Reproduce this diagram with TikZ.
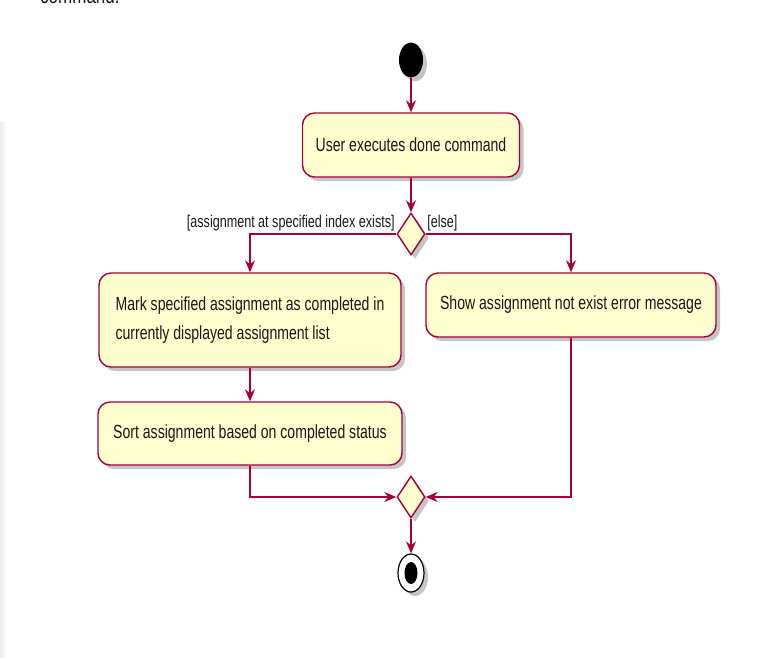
\documentclass[tikz,border=0pt]{standalone}
\usepackage{fontspec}
\setmainfont{Liberation Sans}[FakeStretch=0.74]
\usetikzlibrary{arrows.meta,shapes.geometric,shadows}

\definecolor{umlred}{HTML}{A80036}
\definecolor{umlfill}{HTML}{FEFECE}

\tikzset{
    umlshadow/.style={drop shadow={shadow xshift=4pt, shadow yshift=-4pt, fill=black!45, opacity=.5}},
    activity/.style={draw=umlred, fill=umlfill, line width=1.4pt, rounded corners=12pt,
        inner sep=0pt, text=black!90, font=\fontsize{19}{29}\selectfont, umlshadow},
    branch/.style={diamond, draw=umlred, fill=umlfill, line width=1.4pt, aspect=0.667,
        minimum width=28pt, minimum height=42pt, inner sep=0pt, umlshadow},
    guard/.style={font=\fontsize{17}{20}\selectfont, inner sep=1pt, text=black!90},
    flow/.style={draw=umlred, line width=1.4pt, -{Stealth[length=12pt, width=10pt, inset=4pt]}},
    link/.style={draw=umlred, line width=1.4pt}
}

\begin{document}
\begin{tikzpicture}[x=1pt, y=-1pt]
            \useasboundingbox (0,0) rectangle (784,657);
            \shade[left color=black!7, right color=white] (0,122) rectangle (7,657);
            \node[anchor=base west, font=\fontsize{23}{26}\selectfont, text=black!90, inner sep=0pt] (cmd) at (40,3) {command.};

            \node[ellipse, fill=black, minimum width=24pt, minimum height=35pt, inner sep=0pt, umlshadow] (S) at (411,60) {};

            \node[activity, minimum width=217pt, minimum height=64pt] (A1) at (411,145) {User executes done command};
            \node[branch] (D1) at (411,234) {};

            \node[activity, minimum width=302pt, minimum height=94pt, align=left] (A2) at (250,320)
                {Mark specified assignment as completed in\\currently displayed assignment list};
            \node[activity, minimum width=304pt, minimum height=63pt] (A3) at (250,433.5) {Sort assignment based on completed status};
            \node[activity, minimum width=290pt, minimum height=64pt] (A4) at (571,305) {Show assignment not exist error message};

            \node[branch] (D2) at (411,497) {};
            \node[ellipse, draw=black, line width=1.2pt, fill=white, minimum width=26pt, minimum height=38pt, inner sep=0pt, umlshadow] (E) at (411,573) {};
            \node[ellipse, fill=black, minimum width=13pt, minimum height=22pt, inner sep=0pt] (E0) at (E.center) {};

            \draw[flow] (S) -- (A1);
            \draw[flow] (A1) -- (D1);

            \draw[flow] (D1.west) node[guard, anchor=south east, yshift=1pt] {[assignment at specified index exists]} -| (A2.north);
            \draw[flow] (D1.east) node[guard, anchor=south west, yshift=1pt] {[else]} -| (A4.north);

            \draw[flow] (A2) -- (A3);
            \draw[flow] (A3.south) |- (D2.west);
            \draw[flow] (A4.south) |- (D2.east);
            \draw[flow] (D2) -- (E);

        \end{tikzpicture}
\end{document}
